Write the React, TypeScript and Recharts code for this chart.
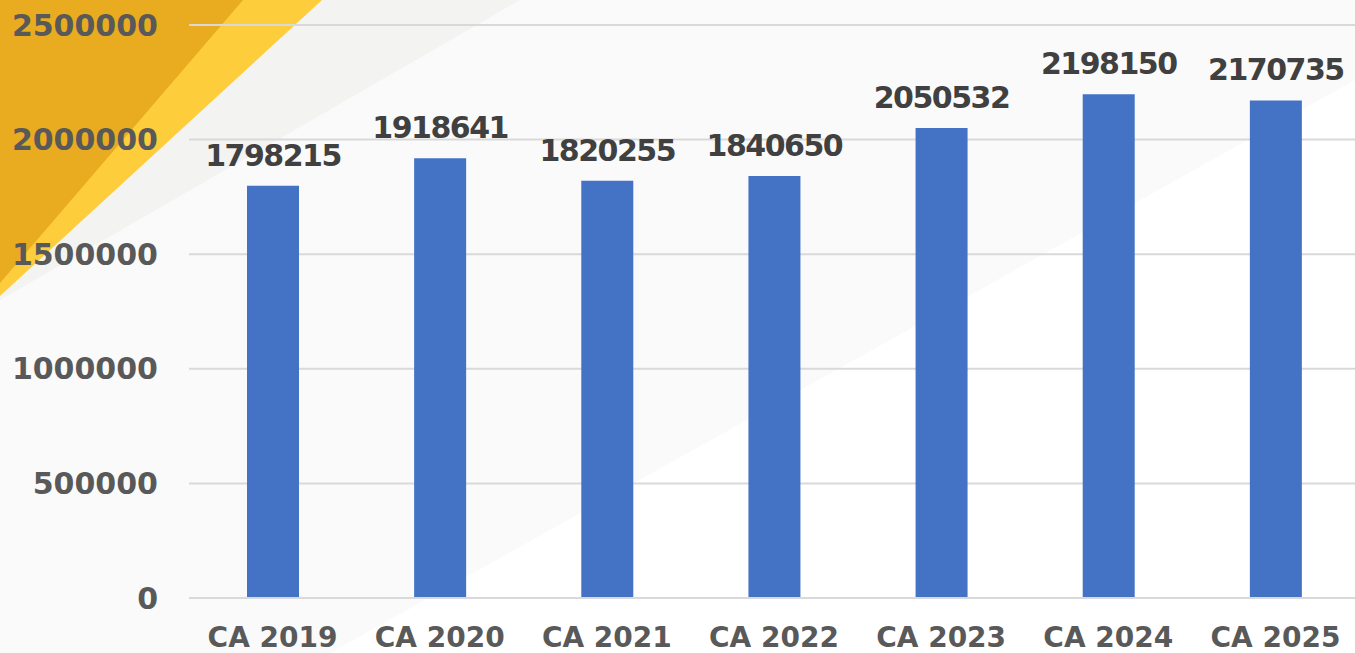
import React from 'react';
import { BarChart, Bar, XAxis, YAxis, CartesianGrid, LabelList } from 'recharts';

const categories = ['CA 2019', 'CA 2020', 'CA 2021', 'CA 2022', 'CA 2023', 'CA 2024', 'CA 2025'];
const values = [1798215, 1918641, 1820255, 1840650, 2050532, 2198150, 2170735];
const yTicks = [0, 500000, 1000000, 1500000, 2000000, 2500000];

const data = categories.map((name, i) => ({ name, value: values[i] }));

const FONT = "'DejaVu Sans', sans-serif";

export default function App() {
  return (
    <div style={{ position: 'fixed', left: 0, top: 0, width: 1355, height: 653, overflow: 'hidden', background: '#fafafa' }}>
      <svg style={{ position: 'absolute', left: 0, top: 0 }} width={1355} height={653}>
        <polygon points="0,0 520,0 0,300" fill="#f3f3f2" />
        <polygon points="1355,80 1355,653 330,653" fill="#ffffff" />
        <polygon points="0,0 322,0 0,296" fill="#fdcd3b" />
        <polygon points="0,0 243,0 0,283" fill="#e9ab1f" />
      </svg>
      <div style={{ position: 'absolute', left: 0, top: 0 }}>
        <BarChart width={1359} height={653} data={data} margin={{ top: 25, right: 0, bottom: 0, left: 0 }}>
          <CartesianGrid vertical={false} stroke="#d9d9d9" strokeWidth={2} />
          <XAxis
            dataKey="name"
            height={55}
            tickSize={0}
            tickMargin={29}
            interval={0}
            axisLine={{ stroke: '#d9d9d9', strokeWidth: 2 }}
            tick={{ fill: '#595959', fontSize: 28, fontWeight: 700, fontFamily: FONT }}
          />
          <YAxis
            width={189}
            domain={[0, 2500000]}
            ticks={yTicks}
            interval={0}
            axisLine={false}
            tickSize={0}
            tickMargin={31}
            tick={{ fill: '#595959', fontSize: 30, fontWeight: 700, fontFamily: FONT }}
          />
          <Bar dataKey="value" fill="#4472c4" barSize={52} isAnimationActive={false}>
            <LabelList
              dataKey="value"
              position="top"
              offset={20}
              fill="#404040"
              fontSize={30}
              fontWeight={700}
              fontFamily={FONT}
              style={{ letterSpacing: '-1.5px' }}
            />
          </Bar>
        </BarChart>
      </div>
    </div>
  );
}
